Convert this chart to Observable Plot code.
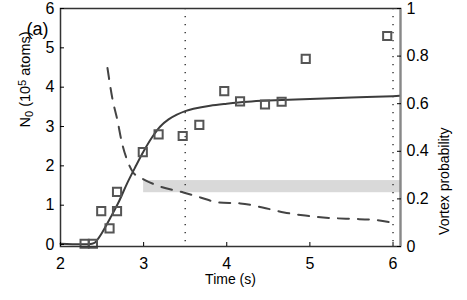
<!DOCTYPE html>
<html><head><meta charset="utf-8">
<script src="https://cdn.jsdelivr.net/npm/d3@7"></script>
<script src="https://cdn.jsdelivr.net/npm/@observablehq/plot@0.6"></script>
<style>body{margin:0;background:#fff} #chart{width:467px;height:300px}</style>
</head><body><div id="chart"></div>
<script>
// Measured atom numbers (10^5 atoms) vs time (s)
const atomTime = [2.29, 2.39, 2.49, 2.59, 2.68, 2.68, 2.99, 3.18, 3.47, 3.67, 3.97, 4.16, 4.46, 4.66, 4.95, 5.93];
const atomN    = [0.02, 0.02, 0.85, 0.41, 0.85, 1.34, 2.35, 2.80, 2.76, 3.04, 3.90, 3.64, 3.56, 3.63, 4.72, 5.30];
// Fit curve (solid)
const fitTime = [2.0, 2.38, 2.42, 2.46, 2.5, 2.6, 2.7, 2.8, 2.9, 3.0, 3.1, 3.2, 3.3, 3.4, 3.5, 3.6, 3.8, 4.0, 4.25, 4.5, 5.0, 5.5, 6.0, 6.08];
const fitN    = [0.02, 0.02, 0.06, 0.17, 0.30, 0.68, 1.08, 1.55, 1.97, 2.37, 2.72, 3.00, 3.18, 3.30, 3.39, 3.45, 3.53, 3.58, 3.63, 3.66, 3.70, 3.74, 3.77, 3.78];
// Vortex probability (dashed, right axis)
const probTime  = [2.565, 2.625, 2.685, 2.733, 2.805, 2.877, 2.96, 3.166, 3.478, 3.683, 3.9, 4.163, 4.43, 4.69, 4.945, 5.16, 5.49, 5.75, 6.0];
const probValue = [0.75, 0.62, 0.53, 0.445, 0.36, 0.31, 0.29, 0.256, 0.227, 0.206, 0.185, 0.181, 0.164, 0.143, 0.13, 0.122, 0.116, 0.113, 0.099];
// Shaded band (right axis units)
const bandTime = [3.0, 6.09];
const bandProb = [0.226, 0.277];
// Dotted marker times
const markerTimes = [3.5, 6.0];
// Ticks
const xTicks = [2, 3, 4, 5, 6];
const yTicks = [0, 1, 2, 3, 4, 5, 6];
const pTicks = [0, 0.2, 0.4, 0.6, 0.8, 1];

const Y0 = -0.05, Y1 = 6, XMAX = 6.09;
const pToY = p => Y0 + p * (Y1 - Y0);
const yToP = y => (y - Y0) / (Y1 - Y0);
const fmtP = v => String(+yToP(v).toFixed(2));

const font = "'Liberation Sans', Arial, Helvetica, sans-serif";

const plot = Plot.plot({
  width: 467, height: 300,
  marginLeft: 60, marginRight: 67, marginTop: 8, marginBottom: 54,
  style: {fontFamily: font, fontSize: "16px", color: "#000", background: "#fff", overflow: "visible"},
  x: {domain: [2, XMAX]},
  y: {domain: [Y0, Y1]},
  marks: [
    Plot.rect([0], {x1: bandTime[0], x2: bandTime[1], y1: pToY(bandProb[0]), y2: pToY(bandProb[1]), fill: "#d9d9d9"}),
    Plot.ruleX(markerTimes, {stroke: "#222", strokeWidth: 1.3, strokeDasharray: "1.3,6.7"}),
    Plot.line(fitTime, {x: d => d, y: (d, i) => fitN[i], stroke: "#3c3c3c", strokeWidth: 2, curve: "catmull-rom"}),
    Plot.line(probTime, {x: d => d, y: (d, i) => pToY(probValue[i]), stroke: "#444", strokeWidth: 2, strokeDasharray: "11,9", curve: "monotone-x"}),
    Plot.dot(atomTime, {x: d => d, y: (d, i) => atomN[i], symbol: "square", r: 4.6, stroke: "#555", strokeWidth: 2, fill: "none"}),
    Plot.frame({stroke: "#333", strokeWidth: 1.5}),
    Plot.ruleX([XMAX], {stroke: "#888", strokeWidth: 2}),
    Plot.axisX(xTicks, {tickSize: -4, tickPadding: 15, label: null, tickFormat: d => String(d)}),
    Plot.axisY(yTicks, {anchor: "left", tickSize: -4, tickPadding: 10, label: null, tickFormat: d => String(d)}),
    Plot.axisY(pTicks.map(pToY), {anchor: "right", tickSize: -4, tickPadding: 10, label: null, tickFormat: fmtP}),
    Plot.text(["Time (s)"], {frameAnchor: "bottom", dy: 37, fontSize: 14}),
    Plot.text(["Vortex probability"], {frameAnchor: "right", dx: 44, rotate: -90, fontSize: 14}),
    Plot.text(["YLABEL"], {frameAnchor: "left", dx: -35, rotate: -90, fontSize: 14.5}),
    Plot.text(["(a)"], {frameAnchor: "top-left", dx: -34, dy: 14, fontSize: 18})
  ]
});

// Enlarge tick labels
d3.select(plot).selectAll('g[aria-label$="tick label"]').style("font-size", "16px")
  .selectAll("text").style("font-size", "16px");

// Build sub/superscripts in the left axis label
d3.select(plot).selectAll("text").each(function() {
  if (this.textContent === "YLABEL") {
    const t = d3.select(this);
    t.text(null);
    t.append("tspan").text("N");
    t.append("tspan").attr("baseline-shift", "-25%").attr("font-size", "11px").text("0");
    t.append("tspan").text(" (10");
    t.append("tspan").attr("baseline-shift", "40%").attr("font-size", "11px").text("5");
    t.append("tspan").text(" atoms)");
  }
});

document.getElementById("chart").appendChild(plot);
</script>
</body></html>
